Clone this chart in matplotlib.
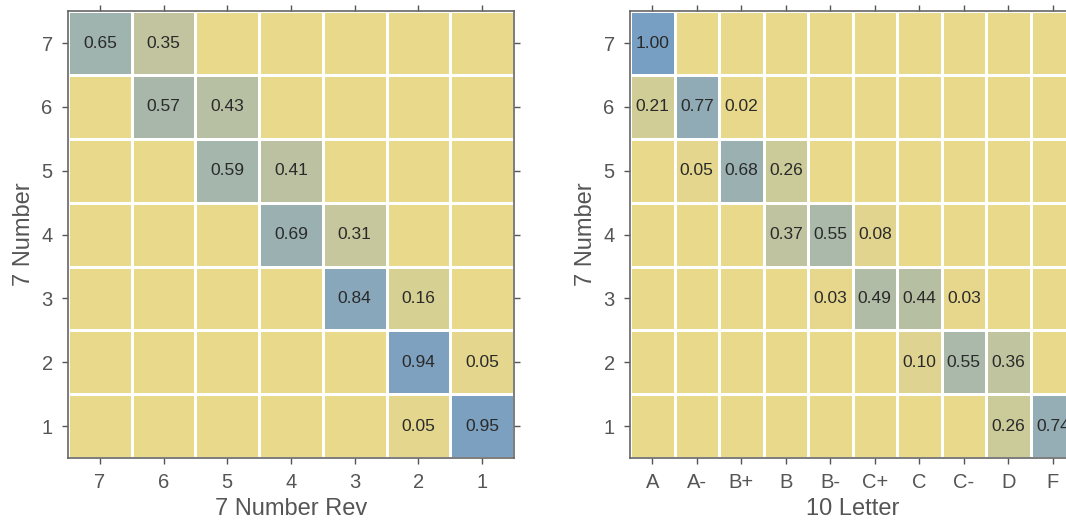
import numpy as np
import matplotlib
matplotlib.use('Agg')
import matplotlib.pyplot as plt
from matplotlib.colors import LinearSegmentedColormap

plt.rcParams['font.family'] = ['Liberation Sans', 'DejaVu Sans']

### data: rows are 7 Number (top = 7), columns are the other scale
rows = ['7', '6', '5', '4', '3', '2', '1']
cols_left = ['7', '6', '5', '4', '3', '2', '1']
cols_right = ['A', 'A-', 'B+', 'B', 'B-', 'C+', 'C', 'C-', 'D', 'F']

vals_left = [
    [0.65, 0.35, 0, 0, 0, 0, 0],
    [0, 0.57, 0.43, 0, 0, 0, 0],
    [0, 0, 0.59, 0.41, 0, 0, 0],
    [0, 0, 0, 0.69, 0.31, 0, 0],
    [0, 0, 0, 0, 0.84, 0.16, 0],
    [0, 0, 0, 0, 0, 0.94, 0.05],
    [0, 0, 0, 0, 0, 0.05, 0.95],
]
vals_right = [
    [1.00, 0, 0, 0, 0, 0, 0, 0, 0, 0],
    [0.21, 0.77, 0.02, 0, 0, 0, 0, 0, 0, 0],
    [0, 0.05, 0.68, 0.26, 0, 0, 0, 0, 0, 0],
    [0, 0, 0, 0.37, 0.55, 0.08, 0, 0, 0, 0],
    [0, 0, 0, 0, 0.03, 0.49, 0.44, 0.03, 0, 0],
    [0, 0, 0, 0, 0, 0, 0.10, 0.55, 0.36, 0],
    [0, 0, 0, 0, 0, 0, 0, 0, 0.26, 0.74],
]

cmap = LinearSegmentedColormap.from_list('yb', ['#e9d98a', '#779ec3'])
grey = '#555555'

fig = plt.figure(figsize=(10.66, 5.25), dpi=100)
ax1 = fig.add_axes([0.0638, 0.1276, 0.4184, 0.851])
ax2 = fig.add_axes([0.591, 0.1276, 0.4175, 0.851])


def heat(ax, vals, cols, xlabel):
    z = np.array(vals)[::-1]
    ax.pcolormesh(z, cmap=cmap, vmin=0, vmax=1, edgecolors='white', linewidth=0.9)
    for i in range(z.shape[0]):
        for j in range(z.shape[1]):
            if z[i, j] > 0:
                ax.text(j + 0.5, i + 0.5, '%.2f' % z[i, j], ha='center', va='center',
                        fontsize=12.5, color='#2a2a2a', clip_on=True)
    ax.set_xlim(0, z.shape[1])
    ax.set_ylim(0, z.shape[0])
    ax.set_xticks(np.arange(z.shape[1]) + 0.5)
    ax.set_xticklabels(cols)
    ax.set_yticks(np.arange(z.shape[0]) + 0.5)
    ax.set_yticklabels(rows[::-1])
    ax.tick_params(direction='out', length=4, width=1, color=grey, labelcolor=grey,
                   labelsize=14.5, top=True, right=True, pad=7)
    for s in ax.spines.values():
        s.set_color('#666666')
        s.set_linewidth(1.2)
    ax.set_xlabel(xlabel, fontsize=17, color=grey, labelpad=4)
    ax.set_ylabel('7 Number', fontsize=17, color=grey, labelpad=5)


heat(ax1, vals_left, cols_left, '7 Number Rev')
heat(ax2, vals_right, cols_right, '10 Letter')

plt.savefig('out.png', dpi=100)
